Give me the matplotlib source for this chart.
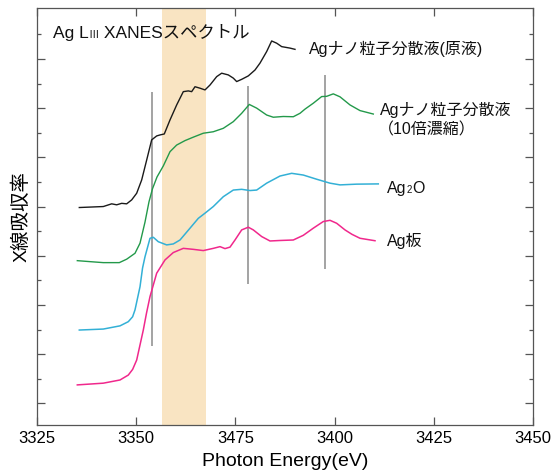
import matplotlib
matplotlib.use("Agg")
import matplotlib.pyplot as plt
from matplotlib.offsetbox import TextArea, HPacker, AnnotationBbox

plt.rcParams['font.family'] = ['Liberation Sans', 'Noto Sans CJK JP']

# spectra (photon energy in eV, offset absorption in arb. units)
e_nano = [3335.66, 3341.71, 3343.82, 3345.08, 3346.34, 3347.60, 3348.86, 3350.12,
          3351.38, 3352.64, 3353.90, 3355.16, 3356.00, 3357.08, 3358.52, 3360.20,
          3361.87, 3363.13, 3363.98, 3364.82, 3366.08, 3367.34, 3368.60, 3370.28,
          3371.54, 3373.21, 3374.47, 3375.32, 3376.58, 3378.25, 3379.94, 3381.20,
          3382.88, 3384.14, 3385.40, 3386.66, 3388.76, 3390.02]
y_nano = [8.96, 9.00, 9.11, 9.07, 9.13, 9.11, 9.27, 9.54,
          10.08, 10.89, 11.71, 11.87, 11.91, 11.95, 12.52, 13.13,
          13.67, 13.70, 13.67, 13.87, 13.81, 13.74, 13.94, 14.28,
          14.42, 14.35, 14.22, 14.08, 14.17, 14.31, 14.55, 14.83,
          15.30, 15.73, 15.64, 15.50, 15.44, 15.39]

e_conc = [3335.16, 3338.36, 3341.71, 3345.74, 3347.60, 3349.70, 3350.96, 3352.22,
          3353.22, 3354.10, 3355.24, 3356.83, 3358.52, 3360.20, 3362.30, 3364.39,
          3366.91, 3369.43, 3371.95, 3374.47, 3376.58, 3378.50, 3380.36, 3382.88,
          3384.55, 3387.07, 3389.59, 3391.28, 3392.54, 3394.63, 3396.74, 3398.00,
          3399.67, 3401.36, 3403.88, 3406.40, 3409.75]
y_conc = [6.80, 6.76, 6.72, 6.72, 6.86, 7.10, 7.51, 8.37,
          9.19, 9.72, 10.20, 10.65, 11.23, 11.50, 11.68, 11.82,
          11.98, 12.04, 12.18, 12.45, 12.79, 13.15, 13.00, 12.72,
          12.63, 12.66, 12.65, 12.79, 12.96, 13.20, 13.47, 13.48,
          13.58, 13.46, 13.13, 12.90, 12.76]

e_ag2o = [3335.66, 3341.71, 3345.92, 3348.01, 3349.10, 3349.70, 3350.96, 3351.60,
          3352.22, 3353.48, 3354.31, 3355.57, 3357.68, 3359.35, 3361.04, 3363.56,
          3365.65, 3367.34, 3369.43, 3371.95, 3374.47, 3376.58, 3378.68, 3380.36,
          3382.88, 3386.24, 3389.18, 3392.11, 3395.48, 3398.84, 3401.36, 3405.56,
          3411.01]
y_ag2o = [3.98, 4.02, 4.15, 4.32, 4.52, 4.80, 5.74, 6.50,
          6.96, 7.71, 7.75, 7.57, 7.44, 7.48, 7.64, 8.12,
          8.52, 8.73, 9.00, 9.40, 9.67, 9.70, 9.65, 9.67,
          9.95, 10.24, 10.35, 10.28, 10.11, 9.95, 9.88, 9.91,
          9.92]

e_foil = [3335.16, 3341.71, 3345.92, 3348.01, 3349.10, 3350.12, 3351.79, 3352.60,
          3353.48, 3355.16, 3357.26, 3359.35, 3361.87, 3364.39, 3366.91, 3369.43,
          3371.12, 3372.38, 3373.64, 3374.90, 3376.58, 3378.25, 3379.51, 3381.62,
          3383.72, 3386.24, 3389.59, 3392.11, 3394.63, 3397.15, 3398.84, 3400.52,
          3402.62, 3404.38, 3406.40, 3410.18]
y_foil = [1.75, 1.82, 1.95, 2.15, 2.38, 2.76, 3.98, 4.67,
          5.34, 6.29, 6.83, 7.13, 7.30, 7.26, 7.21, 7.30,
          7.37, 7.29, 7.35, 7.64, 8.05, 8.16, 8.05, 7.78,
          7.60, 7.62, 7.64, 7.83, 8.12, 8.39, 8.44, 8.32,
          8.05, 7.87, 7.71, 7.61]

# reference lines: energy, bottom, top
marker_e = [3353.9, 3378.2, 3397.7]
marker_lo = [3.33, 5.84, 6.46]
marker_hi = [13.66, 13.90, 14.35]

band = (3356.6, 3367.5)

xticks = [3325, 3350, 3375, 3400, 3425, 3450]
xtick_labels = ['3325', '3350', '3475', '3400', '3425', '3450']

fig = plt.figure(figsize=(5.54, 4.75), dpi=100)
ax = fig.add_axes([37 / 554, 1 - 425 / 475, 496 / 554, 417 / 475])

ax.axvspan(band[0], band[1], color='#f9e4c2', lw=0, zorder=0)
ax.vlines(marker_e, marker_lo, marker_hi, color='#8a8a8a', lw=1.1, zorder=1)

ax.plot(e_nano, y_nano, color='#1a1a1a', lw=1.0, zorder=3)
ax.plot(e_conc, y_conc, color='#23994a', lw=1.0, zorder=3)
ax.plot(e_ag2o, y_ag2o, color='#33b0d6', lw=1.1, zorder=3)
ax.plot(e_foil, y_foil, color='#f0288c', lw=1.1, zorder=3)

ax.set_xlim(3325, 3450)
ax.set_ylim(0.12, 17.07)
ax.set_xticks(xticks)
ax.set_xticklabels(xtick_labels, fontsize=12)
ax.set_yticks(range(1, 17, 2))
ax.set_yticks(range(2, 17, 2), minor=True)
ax.set_yticklabels([])
ax.tick_params(which='both', direction='in', top=True, right=True,
               color='#555555', width=0.9)
ax.tick_params(which='major', length=5.5, pad=4)
ax.tick_params(which='minor', length=3)
for s in ax.spines.values():
    s.set_color('#555555')
    s.set_linewidth(0.9)

ax.set_xlabel('Photon Energy(eV)', fontsize=14, labelpad=5)
ax.set_ylabel('X線吸収率', fontsize=14, labelpad=1)

# title with small roman numeral
big = dict(fontsize=12.5, color='#111111')
small = dict(fontsize=7.5, color='#111111')
title = HPacker(children=[TextArea('Ag L', textprops=big),
                          TextArea('Ⅲ', textprops=small),
                          TextArea(' XANESスペクトル', textprops=big)],
                align='baseline', pad=0, sep=0)
ax.add_artist(AnnotationBbox(title, (0.032, 0.94), xycoords='axes fraction',
                             box_alignment=(0, 0.5), frameon=False, pad=0))

lab = dict(fontsize=11.5, color='#111111', va='center', ha='left')
ax.text(3393.5, 15.41, 'Agナノ粒子分散液(原液)', **lab)
ax.text(3411.4, 12.93, 'Agナノ粒子分散液', **lab)
ax.text(3411.0, 12.12, '（10倍濃縮）', **lab)
ax.text(3413.2, 7.60, 'Ag板', **lab)

ag2o = HPacker(children=[TextArea('Ag', textprops=dict(fontsize=11.5, color='#111111')),
                         TextArea('2', textprops=dict(fontsize=7, color='#111111')),
                         TextArea('O', textprops=dict(fontsize=11.5, color='#111111'))],
               align='baseline', pad=0, sep=0)
ax.add_artist(AnnotationBbox(ag2o, (3413.2, 9.72), xycoords='data',
                             box_alignment=(0, 0.5), frameon=False, pad=0))

fig.savefig('out.png', dpi=100)
